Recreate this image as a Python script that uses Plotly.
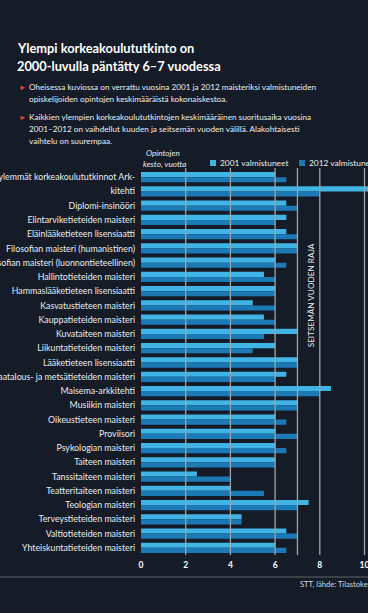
import plotly.graph_objects as go

categories = [
    "Kaikki ylemmät korkeakoulututkinnot Ark-",
    "kitehti",
    "Diplomi-insinööri",
    "Elintarviketieteiden maisteri",
    "Eläinlääketieteen lisensiaatti",
    "Filosofian maisteri (humanistinen)",
    "Filosofian maisteri (luonnontieteellinen)",
    "Hallintotieteiden maisteri",
    "Hammaslääketieteen lisensiaatti",
    "Kasvatustieteen maisteri",
    "Kauppatieteiden maisteri",
    "Kuvataiteen maisteri",
    "Liikuntatieteiden maisteri",
    "Lääketieteen lisensiaatti",
    "Maatalous- ja metsätieteiden maisteri",
    "Maisema-arkkitehti",
    "Musiikin maisteri",
    "Oikeustieteen maisteri",
    "Proviisori",
    "Psykologian maisteri",
    "Taiteen maisteri",
    "Tanssitaiteen maisteri",
    "Teatteritaiteen maisteri",
    "Teologian maisteri",
    "Terveystieteiden maisteri",
    "Valtiotieteiden maisteri",
    "Yhteiskuntatieteiden maisteri",
]
v2001 = [6.0, 10.5, 6.5, 6.5, 6.5, 7.0, 6.0, 5.5, 6.0, 5.0, 5.5, 7.0, 6.0, 7.0,
         6.5, 8.5, 7.0, 6.0, 6.0, 6.0, 6.0, 2.5, 4.0, 7.5, 4.5, 6.5, 6.0]
v2012 = [6.5, 8.0, 7.0, 6.0, 7.0, 7.0, 6.5, 6.0, 6.0, 6.0, 6.0, 5.5, 5.0, 7.0,
         6.0, 8.0, 7.0, 6.5, 7.0, 6.5, 6.0, 4.0, 5.5, 7.0, 4.5, 7.0, 6.5]
tick_vals = [0, 2, 4, 6, 8, 10]
limit_years = 7
series_names = ["2001 valmistuneet", "2012 valmistuneet"]

BG = "#151c27"
LIGHT = "#40b4e4"
DARK = "#1b79b5"
GRID = "#9ea3a9"
TXT = "#e8ecef"
FONT = "Lato"

W, H = 368, 613
ML, MR, MT, MB = 141, 0, 170, 58
PW, PH = W - ML - MR, H - MT - MB


def px(x):
    return (x - ML) / PW


def py(y):
    return (H - MB - y) / PH


fig = go.Figure()
fig.add_trace(go.Bar(y=categories, x=v2001, orientation="h", name=series_names[0],
                     marker=dict(color=LIGHT, line=dict(width=0))))
fig.add_trace(go.Bar(y=categories, x=v2012, orientation="h", name=series_names[1],
                     marker=dict(color=DARK, line=dict(width=0))))

shapes = []
for t in tick_vals[1:] + [limit_years]:
    shapes.append(dict(type="line", xref="x", yref="y domain", x0=t, x1=t, y0=0, y1=1.005,
                       line=dict(color=GRID, width=1.3), layer="above"))
# bottom separator line
shapes.append(dict(type="line", xref="paper", yref="paper", x0=px(0), x1=px(W),
                   y0=py(577), y1=py(577), line=dict(color="#5d646c", width=1)))
# legend squares
shapes.append(dict(type="rect", xref="paper", yref="paper", x0=px(210), x1=px(216),
                   y0=py(166), y1=py(160), fillcolor=LIGHT, line=dict(width=0)))
shapes.append(dict(type="rect", xref="paper", yref="paper", x0=px(299), x1=px(305),
                   y0=py(166), y1=py(160), fillcolor=DARK, line=dict(width=0)))

ann = []


def text(x, y, s, size, color=TXT, xanchor="left", **kw):
    ann.append(dict(xref="paper", yref="paper", x=px(x), y=py(y), text=s, showarrow=False,
                    xanchor=xanchor, yanchor="middle", align="left",
                    font=dict(family=FONT, size=size, color=color), **kw))


text(15, 48, "<b>Ylempi korkeakoulututkinto on</b>", 12.8, color="#ffffff")
text(15, 66, "<b>2000-luvulla päntätty 6–7 vuodessa</b>", 12.8, color="#ffffff")
text(17, 87, "►", 7.5, color="#e2452f")
text(27, 87, "Oheisessa kuviossa on verrattu vuosina 2001 ja 2012 maisteriksi valmistuneiden", 8.2)
text(27, 99, "opiskelijoiden opintojen keskimääräistä kokonaiskestoa.", 8.2)
text(17, 117, "►", 7.5, color="#e2452f")
text(27, 117, "Kaikkien ylempien korkeakoulututkintojen keskimääräinen suoritusaika vuosina", 8.2)
text(27, 129, "2001–2012 on vaihdellut kuuden ja seitsemän vuoden välillä. Alakohtaisesti", 8.2)
text(27, 141, "vaihtelu on suurempaa.", 8.2)
text(144, 153, "<i>Opintojen</i>", 8.2)
text(141, 164, "<i>kesto, vuotta</i>", 8.2)
text(218, 163, series_names[0], 8.4)
text(307, 163, series_names[1], 8.4)
text(298, 584, "STT, lähde: Tilastokeskus", 7.6, color="#d4d8dc")
ann.append(dict(xref="x", yref="paper", x=limit_years + 0.62, y=py(295), text="SEITSEMÄN VUODEN RAJA",
                showarrow=False, textangle=-90, xanchor="center", yanchor="middle",
                font=dict(family=FONT, size=8.2, color=TXT)))

fig.update_layout(
    width=W, height=H,
    margin=dict(l=ML, r=MR, t=MT, b=MB, autoexpand=False),
    paper_bgcolor=BG, plot_bgcolor=BG,
    barmode="group", bargap=0.28, bargroupgap=0,
    showlegend=False,
    shapes=shapes, annotations=ann,
    xaxis=dict(range=[0, PW / 22.35], tickvals=tick_vals, showgrid=False, zeroline=False,
               showline=False, ticks="", ticklabelstandoff=3, ticklabeloverflow="allow",
               tickfont=dict(family=FONT, size=8.5, color="#ffffff", weight="bold")),
    yaxis=dict(autorange="reversed", showgrid=False, zeroline=False, showline=False,
               ticks="", ticklabelstandoff=5, automargin=False,
               tickfont=dict(family=FONT, size=8.8, color=TXT)),
)
fig.write_html(
    "out.html",
    config={"displayModeBar": False},
    post_script="document.body.style.margin='0px';document.body.style.background='" + BG + "';",
)
